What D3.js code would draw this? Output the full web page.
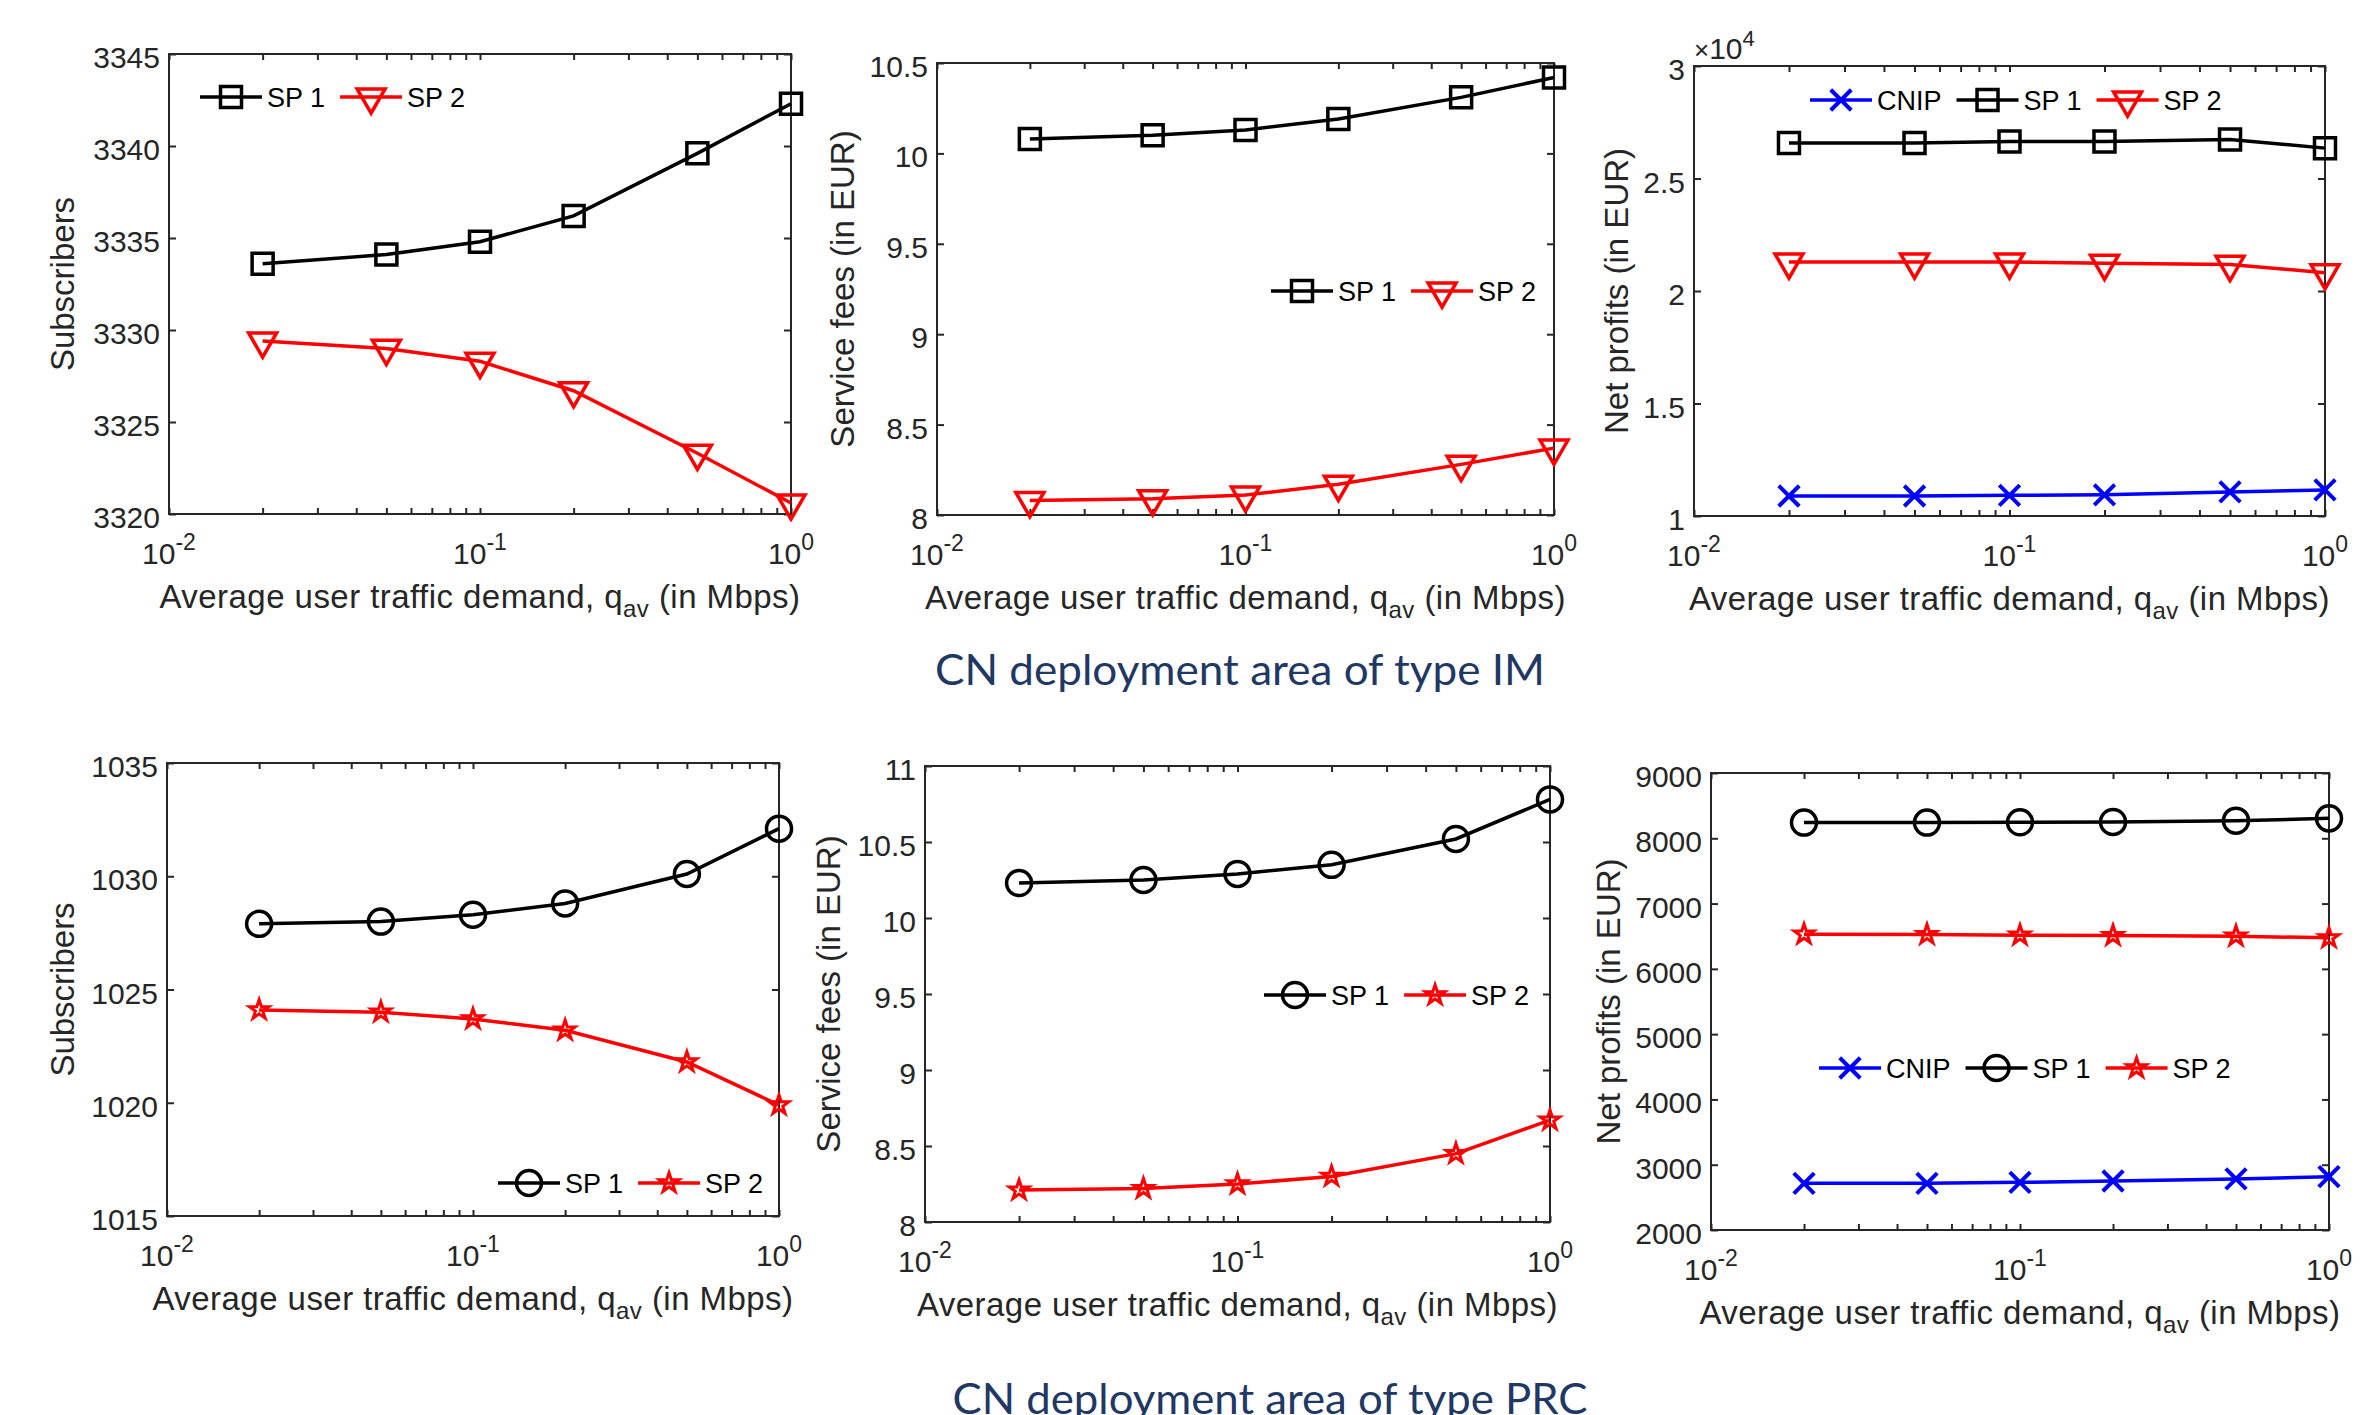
<!DOCTYPE html>
<html>
<head>
<meta charset="utf-8">
<script src="https://cdn.jsdelivr.net/npm/d3@7"></script>
<style>
  body { margin: 0; background: #fff; }
  svg text { font-family: "Liberation Sans", Arial, sans-serif; fill: #262626; }
  svg text.title { font-family: Lato, "Open Sans", sans-serif; fill: #1f3864; }
  svg text.leg { fill: #000; }
</style>
</head>
<body>
<svg id="fig" width="2369" height="1415"></svg>
<script>
// x values: average user traffic demand q_av (Mbps)
var qav = [0.02, 0.05, 0.1, 0.2, 0.5, 1];
var xMajor = [0.01, 0.1, 1];
var xExp = ["-2", "-1", "0"];

// CN deployment area of type IM
var imSubsSP1 = [3333.6, 3334.1, 3334.8, 3336.2, 3339.6, 3342.3];
var imSubsSP2 = [3329.4, 3329.0, 3328.3, 3326.7, 3323.3, 3320.6];
var imFeesSP1 = [10.08, 10.10, 10.13, 10.19, 10.31, 10.42];
var imFeesSP2 = [8.08, 8.09, 8.11, 8.17, 8.28, 8.37];
var imProfitCNIP = [10890, 10890, 10920, 10940, 11070, 11160];
var imProfitSP1 = [26580, 26580, 26640, 26650, 26730, 26350];
var imProfitSP2 = [21290, 21290, 21290, 21230, 21180, 20810];

// CN deployment area of type PRC
var prcSubsSP1 = [1027.9, 1028.0, 1028.3, 1028.8, 1030.1, 1032.1];
var prcSubsSP2 = [1024.1, 1024.0, 1023.7, 1023.2, 1021.8, 1019.9];
var prcFeesSP1 = [10.23, 10.25, 10.29, 10.35, 10.52, 10.78];
var prcFeesSP2 = [8.21, 8.22, 8.25, 8.30, 8.45, 8.67];
var prcProfitCNIP = [2715, 2715, 2730, 2750, 2783, 2817];
var prcProfitSP1 = [8240, 8240, 8245, 8250, 8270, 8305];
var prcProfitSP2 = [6530, 6525, 6515, 6510, 6500, 6475];

// y ticks
var imSubsTicks = [3320, 3325, 3330, 3335, 3340, 3345];
var imFeesTicks = [8, 8.5, 9, 9.5, 10, 10.5];
var imProfitTicks = [10000, 15000, 20000, 25000, 30000];
var prcSubsTicks = [1015, 1020, 1025, 1030, 1035];
var prcFeesTicks = [8, 8.5, 9, 9.5, 10, 10.5, 11];
var prcProfitTicks = [2000, 3000, 4000, 5000, 6000, 7000, 8000, 9000];

var xLabel = "Average user traffic demand, q";

// custom "x" marker like matlab
var symbolCross = {
  draw: function(ctx, size) {
    var s = Math.sqrt(size) / 2;
    ctx.moveTo(-s, -s); ctx.lineTo(s, s);
    ctx.moveTo(-s, s); ctx.lineTo(s, -s);
  }
};
var markers = {
  square:   { type: d3.symbolSquare, size: 441, rot: 0, sw: 3.5 },
  triangle: { type: d3.symbolTriangle, size: 339, rot: 180, sw: 3.5 },
  circle:   { type: d3.symbolCircle, size: 491, rot: 0, sw: 3.5 },
  star:     { type: d3.symbolStar, size: 118, rot: 0, sw: 3 },
  cross:    { type: symbolCross, size: 420, rot: 0, sw: 4 }
};

var svg = d3.select("#fig");

function panel(p) {
  var g = svg.append("g");
  var x = d3.scaleLog().domain([0.01, 1]).range([p.left, p.right]);
  var y = d3.scaleLinear().domain([p.yTicks[0], p.yTicks[p.yTicks.length - 1]]).range([p.bottom, p.top]);

  function ax(axis, tx, ty) {
    var a = g.append("g").attr("transform", "translate(" + tx + "," + ty + ")")
      .call(axis).attr("font-size", 30).attr("color", "#262626");
    a.select(".domain").remove();
    a.selectAll(".tick line").attr("stroke-width", 2);
    return a;
  }
  ax(d3.axisBottom(x).tickValues(x.ticks()).tickSizeInner(-6).tickSizeOuter(0).tickFormat(""), 0, p.bottom);
  ax(d3.axisTop(x).tickValues(x.ticks()).tickSizeInner(-6).tickSizeOuter(0).tickFormat(""), 0, p.top);
  var yl = ax(d3.axisLeft(y).tickValues(p.yTicks).tickSizeInner(-7).tickSizeOuter(0).tickPadding(9).tickFormat(p.yFmt), p.left, 0);
  yl.selectAll("text").attr("dy", "0.45em");
  ax(d3.axisRight(y).tickValues(p.yTicks).tickSizeInner(-7).tickSizeOuter(0).tickFormat(""), p.right, 0);

  g.append("rect").attr("x", p.left).attr("y", p.top)
    .attr("width", p.right - p.left).attr("height", p.bottom - p.top)
    .attr("fill", "none").attr("stroke", "#262626").attr("stroke-width", 2);

  // x tick labels 10^k
  g.selectAll(".xt").data(xMajor).join("text")
    .attr("x", function(d) { return x(d); })
    .attr("y", p.bottom + 50)
    .attr("text-anchor", "middle").attr("font-size", 30)
    .each(function(d, i) {
      var t = d3.select(this);
      t.append("tspan").text("10");
      t.append("tspan").attr("dy", -14).attr("font-size", 23).text(xExp[i]);
    });

  // x label
  var xt = g.append("text").attr("x", (p.left + p.right) / 2).attr("y", p.bottom + 94)
    .attr("text-anchor", "middle").attr("font-size", 33).attr("letter-spacing", 0.45);
  xt.append("tspan").text(xLabel);
  xt.append("tspan").attr("dy", 9).attr("font-size", 24).text("av");
  xt.append("tspan").attr("dy", -9).text(" (in Mbps)");

  // y label
  g.append("text").attr("transform", "translate(" + (p.ylabX + 11) + "," + (p.top + p.bottom) / 2 + ") rotate(-90)")
    .attr("text-anchor", "middle").attr("font-size", 33).text(p.yLabel);

  if (p.expo) {
    var e = g.append("text").attr("x", p.left).attr("y", p.top - 7).attr("font-size", 30);
    e.append("tspan").attr("font-size", 26).text("\u00d7");
    e.append("tspan").text("10");
    e.append("tspan").attr("dy", -13).attr("font-size", 22).text(p.expo);
  }

  var line = d3.line().x(function(d) { return x(d[0]); }).y(function(d) { return y(d[1]); });

  p.series.forEach(function(s) {
    var pts = d3.zip(qav, s.values);
    g.append("path").attr("d", line(pts)).attr("fill", "none")
      .attr("stroke", s.color).attr("stroke-width", 3.5);
    var m = markers[s.marker];
    g.selectAll(null).data(pts).join("path")
      .attr("d", d3.symbol().type(m.type).size(m.size))
      .attr("transform", function(d) { return "translate(" + x(d[0]) + "," + y(d[1]) + ") rotate(" + m.rot + ")"; })
      .attr("fill", "none").attr("stroke", s.color).attr("stroke-width", m.sw);
  });

  // legend (no box)
  var lx = p.legX, ly = p.legY;
  p.series.forEach(function(s) {
    var m = markers[s.marker];
    g.append("line").attr("x1", lx).attr("x2", lx + 62).attr("y1", ly).attr("y2", ly)
      .attr("stroke", s.color).attr("stroke-width", 3.5);
    g.append("path").attr("d", d3.symbol().type(m.type).size(m.size)())
      .attr("transform", "translate(" + (lx + 31) + "," + ly + ") rotate(" + m.rot + ")")
      .attr("fill", "none").attr("stroke", s.color).attr("stroke-width", m.sw);
    var t = g.append("text").attr("class", "leg").attr("x", lx + 67).attr("y", ly + 10)
      .attr("font-size", 27).text(s.name);
    lx += 67 + t.node().getComputedTextLength() + 15;
  });
}

var fmtPlain = function(d) { return String(d); };

panel({ left: 169, right: 791, top: 54, bottom: 514, ylabX: 63, yLabel: "Subscribers",
  yTicks: imSubsTicks, yFmt: fmtPlain, legX: 200, legY: 97,
  series: [
    { name: "SP 1", values: imSubsSP1, color: "#000000", marker: "square" },
    { name: "SP 2", values: imSubsSP2, color: "#ff0000", marker: "triangle" }
  ] });
panel({ left: 937, right: 1554, top: 63, bottom: 515, ylabX: 843, yLabel: "Service fees (in EUR)",
  yTicks: imFeesTicks, yFmt: fmtPlain, legX: 1271, legY: 291,
  series: [
    { name: "SP 1", values: imFeesSP1, color: "#000000", marker: "square" },
    { name: "SP 2", values: imFeesSP2, color: "#ff0000", marker: "triangle" }
  ] });
panel({ left: 1694, right: 2325, top: 66, bottom: 516, ylabX: 1617, yLabel: "Net profits (in EUR)",
  yTicks: imProfitTicks, yFmt: function(d) { return String(d / 1e4); }, expo: "4", legX: 1810, legY: 100,
  series: [
    { name: "CNIP", values: imProfitCNIP, color: "#0000ff", marker: "cross" },
    { name: "SP 1", values: imProfitSP1, color: "#000000", marker: "square" },
    { name: "SP 2", values: imProfitSP2, color: "#ff0000", marker: "triangle" }
  ] });

panel({ left: 167, right: 779, top: 763, bottom: 1216, ylabX: 63, yLabel: "Subscribers",
  yTicks: prcSubsTicks, yFmt: fmtPlain, legX: 498, legY: 1183,
  series: [
    { name: "SP 1", values: prcSubsSP1, color: "#000000", marker: "circle" },
    { name: "SP 2", values: prcSubsSP2, color: "#ff0000", marker: "star" }
  ] });
panel({ left: 925, right: 1550, top: 766, bottom: 1222, ylabX: 829, yLabel: "Service fees (in EUR)",
  yTicks: prcFeesTicks, yFmt: fmtPlain, legX: 1264, legY: 995,
  series: [
    { name: "SP 1", values: prcFeesSP1, color: "#000000", marker: "circle" },
    { name: "SP 2", values: prcFeesSP2, color: "#ff0000", marker: "star" }
  ] });
panel({ left: 1711, right: 2329, top: 773, bottom: 1230, ylabX: 1609, yLabel: "Net profits (in EUR)",
  yTicks: prcProfitTicks, yFmt: fmtPlain, legX: 1819, legY: 1068,
  series: [
    { name: "CNIP", values: prcProfitCNIP, color: "#0000ff", marker: "cross" },
    { name: "SP 1", values: prcProfitSP1, color: "#000000", marker: "circle" },
    { name: "SP 2", values: prcProfitSP2, color: "#ff0000", marker: "star" }
  ] });

// group titles (the lower one runs off the bottom edge, as in the source figure)
svg.append("text").attr("class", "title").attr("x", 1240).attr("y", 685)
  .attr("text-anchor", "middle").attr("font-size", 42)
  .attr("textLength", 610).attr("lengthAdjust", "spacingAndGlyphs")
  .text("CN deployment area of type IM");
svg.append("text").attr("class", "title").attr("x", 1270).attr("y", 1414)
  .attr("text-anchor", "middle").attr("font-size", 42)
  .attr("textLength", 635).attr("lengthAdjust", "spacingAndGlyphs")
  .text("CN deployment area of type PRC");
</script>
</body>
</html>
